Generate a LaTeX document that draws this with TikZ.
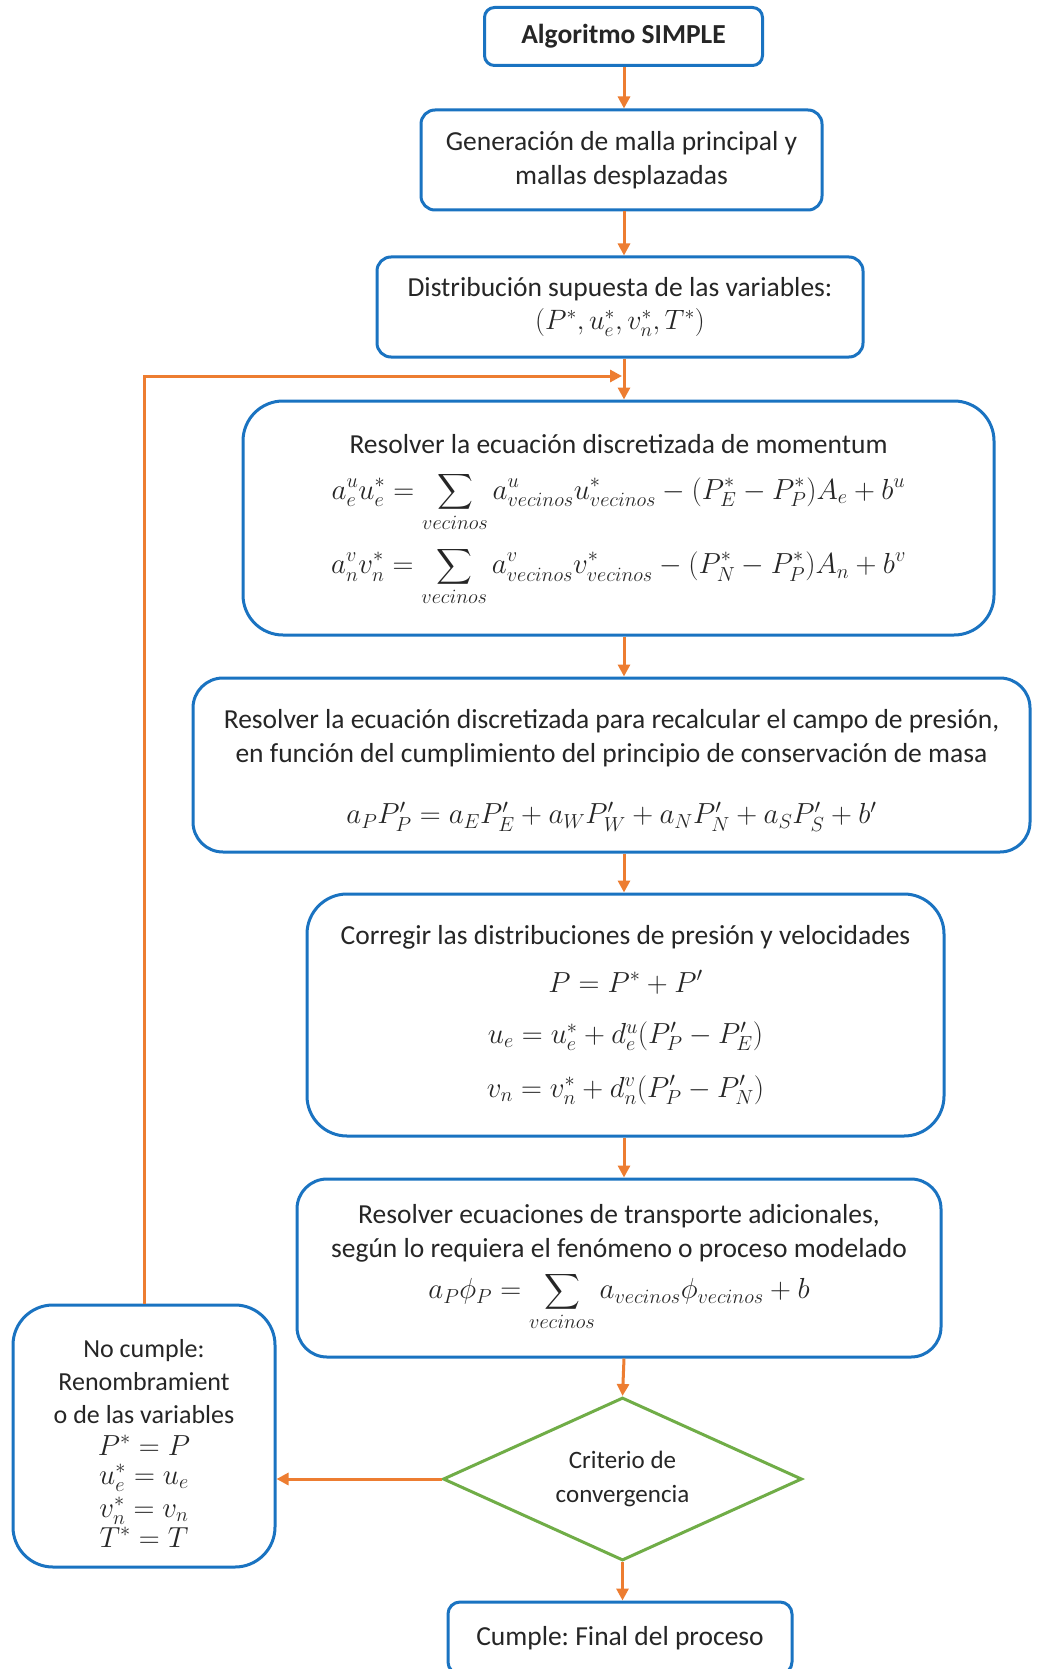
\RequirePackage{fix-cm}
\documentclass[tikz,border=0pt]{standalone}
\usepackage{amsmath}
\usepackage{fontspec}
\setmainfont{Carlito}
\frenchspacing
\usetikzlibrary{arrows.meta,shapes.geometric}
\definecolor{boxblue}{HTML}{1A73C1}
\definecolor{flow}{HTML}{ED7D31}
\definecolor{decgreen}{HTML}{70AD47}
\definecolor{ink}{HTML}{262626}
% slightly larger size for the formulas
\newcommand{\eqsize}{\fontsize{29}{34}\selectfont}

\begin{document}
\begin{tikzpicture}[x=1pt,y=-1pt,
  box/.style={draw=boxblue, line width=3pt, fill=white, text=ink, align=center,
    font=\fontsize{27.5}{33.5}\selectfont, inner sep=0pt},
  decision/.style={diamond, shape aspect=2.2, draw=decgreen, line width=3pt, fill=white, text=ink,
    align=center, inner sep=0pt, font=\fontsize{25}{34}\selectfont},
  arr/.style={draw=flow, line width=3pt, -{Triangle[length=12pt,width=12pt]}},
]
\useasboundingbox (0,0) rectangle (1037,1669);
\clip (0,0) rectangle (1037,1669);
\fill[white] (0,0) rectangle (1037,1669);

% main column of steps
\node[box, minimum width=278pt, minimum height=58pt, rounded corners=10pt,
  font=\fontsize{27.5}{33.5}\selectfont\bfseries] (A) at (623.5,36.5) {Algoritmo SIMPLE};

\node[box, minimum width=401pt, minimum height=100pt, rounded corners=14pt] (B) at (621.5,160)
  {Generación de malla principal y\\ mallas desplazadas};

\node[box, minimum width=486pt, minimum height=100pt, rounded corners=14pt] (C) at (620,307)
  {Distribución supuesta de las variables:\\ {\fontsize{28}{34}\selectfont$(P^*, u_e^*, v_n^*, T^*)$}};

\node[box, minimum width=751pt, minimum height=234pt, rounded corners=40pt] (D) at (618.5,518)
  {\rule{0pt}{24pt}Resolver la ecuación discretizada de momentum\\[12pt]
   {\eqsize$\displaystyle a_e^u u_e^* = \sum_{vecinos} a^u_{vecinos} u^*_{vecinos} - (P_E^* - P_P^*)A_e + b^u$}\\[14pt]
   {\eqsize$\displaystyle a_n^v v_n^* = \sum_{vecinos} a^v_{vecinos} v^*_{vecinos} - (P_N^* - P_P^*)A_n + b^v$}};

\node[box, minimum width=837pt, minimum height=174pt, rounded corners=30pt] (E) at (611.5,765)
  {\rule{0pt}{30pt}Resolver la ecuación discretizada para recalcular el campo de presión,\\
   en función del cumplimiento del principio de conservación de masa\\[28pt]
   {\eqsize$a_P P'_P = a_E P'_E + a_W P'_W + a_N P'_N + a_S P'_S + b'$}};

\node[box, minimum width=637pt, minimum height=242pt, rounded corners=40pt] (F) at (625.5,1015)
  {Corregir las distribuciones de presión y velocidades\\[14pt]
   {\eqsize$P = P^* + P'$}\\[18pt]
   {\eqsize$u_e = u_e^* + d_e^u(P'_P - P'_E)$}\\[20pt]
   {\eqsize$v_n = v_n^* + d_n^v(P'_P - P'_N)$}};

\node[box, minimum width=644pt, minimum height=178pt, rounded corners=30pt] (G) at (619,1268)
  {Resolver ecuaciones de transporte adicionales,\\
   según lo requiera el fenómeno o proceso modelado\\[8pt]
   {\eqsize$\displaystyle a_P\phi_P = \sum_{vecinos} a_{vecinos}\phi_{vecinos} + b$}};

\node[decision, minimum width=359pt, minimum height=163pt] (H) at (622.5,1479)
  {Criterio de\\ convergencia};

\node[box, minimum width=344pt, minimum height=72pt, rounded corners=12pt] (I) at (620,1638)
  {Cumple: Final del proceso};

% renaming box for the iteration loop
\node[box, minimum width=262pt, minimum height=262pt, rounded corners=40pt,
  font=\fontsize{26}{33}\selectfont] (J) at (144,1436)
  {\rule{0pt}{32pt}No cumple:\\ Renombramient\\ o de las variables\\[-1pt]
   {\eqsize$P^* = P$}\\[-4pt] {\eqsize$u_e^* = u_e$}\\[0pt] {\eqsize$v_n^* = v_n$}\\[-3pt] {\eqsize$T^* = T$}};

% connectors
\coordinate (col) at (624,0);
\coordinate (loop) at (624,376);
\draw[arr] (A.south -| col) -- (B.north -| col);
\draw[arr] (B.south -| col) -- (C.north -| col);
\draw[arr] (C.south -| col) -- (D.north -| col);
\draw[arr] (D.south -| col) -- (E.north -| col);
\draw[arr] (E.south -| col) -- (F.north -| col);
\draw[arr] (F.south -| col) -- (G.north -| col);
\draw[arr] (G.south -| col) -- (H.north);
\draw[arr] (H.south) -- (I.north -| H.south);
\draw[arr] (H.west) -- (H.west -| J.east);
\draw[arr, shorten >=2pt] (J.north) |- (loop);
\end{tikzpicture}
\end{document}
